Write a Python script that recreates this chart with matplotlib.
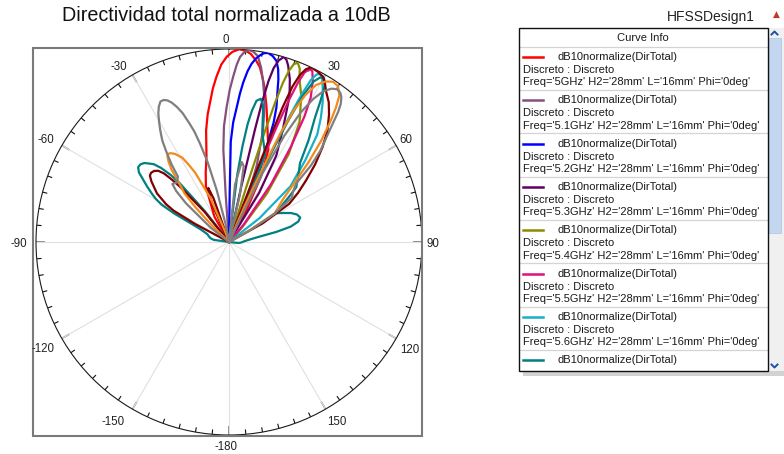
import numpy as np
import matplotlib
matplotlib.use('Agg')
import matplotlib.pyplot as plt
from matplotlib.patches import Rectangle
from matplotlib.lines import Line2D

plt.rcParams['font.family'] = ['Liberation Sans', 'DejaVu Sans']

# ---------------- data (angle in deg, normalized radius) ----------------
freqs = ['5GHz', '5.1GHz', '5.2GHz', '5.3GHz', '5.4GHz', '5.5GHz',
         '5.6GHz', '5.7GHz', '5.8GHz', '5.9GHz', '6GHz']
colors = ['#ff0000', '#85507c', '#0000ff', '#5e0060', '#8c8c00', '#e0107e',
          '#18b0c8', '#008080', '#800000', '#f28a1e', '#7f7f7f']

th_50 = [-40, -30, -22.7, -18.5, -14.7, -11.6, -9.5, -8, -6, -4.3, -2.5, -0.7, 1, 3, 5, 6.7, 8.5, 10,
         11.5, 13, 15.7, 19.5, 23.1, 26, 29, 32]
r_50 = [0, 0.15, 0.31, 0.38, 0.46, 0.59, 0.67, 0.72, 0.80, 0.86, 0.92, 0.96, 0.985, 1.0, 0.995, 0.98, 0.95, 0.92,
        0.87, 0.82, 0.72, 0.60, 0.52, 0.38, 0.18, 0]

th_51 = [-6, -4, -3.5, -2.5, -1, 0.3, 1.5, 2.5, 3.4, 4.5, 5.7, 7.2, 8.8, 10.4, 12, 14.5, 17, 20, 23, 26]
r_51 = [0, 0.25, 0.48, 0.6, 0.70, 0.79, 0.86, 0.92, 0.96, 0.985, 1.0, 0.995, 0.975, 0.92, 0.85, 0.74, 0.6, 0.42,
        0.22, 0]

th_52 = [0, 0.8, 1.0, 2, 3.3, 4.2, 5.1, 6.2, 7.2, 8.3, 9.4, 10.5, 11.7, 13.2, 14.7, 15.9, 16.9, 18.2, 19.4,
         20.5, 21.6, 23.3, 25, 28]
r_52 = [0, 0.25, 0.52, 0.62, 0.70, 0.77, 0.83, 0.89, 0.93, 0.96, 0.98, 0.995, 1.0, 0.99, 0.97, 0.93, 0.88, 0.8,
        0.74, 0.66, 0.53, 0.4, 0.26, 0]

th_53 = [11.5, 12.5, 13, 13.3, 13.8, 14.4, 15.3, 16.5, 17.5, 18.5, 20.5, 22.5, 25.5, 28.7, 31.5, 35]
r_53 = [0, 0.3, 0.6, 0.75, 0.86, 0.93, 0.975, 1.0, 0.99, 0.965, 0.9, 0.82, 0.65, 0.51, 0.3, 0]

th_54 = [16.5, 17.5, 17.8, 18, 18.3, 18.7, 19.3, 20, 21, 22.2, 23.4, 26.3, 30.5, 34.2, 38, 42, 45]
r_54 = [0, 0.3, 0.46, 0.62, 0.76, 0.87, 0.94, 0.98, 0.995, 0.97, 0.92, 0.845, 0.72, 0.55, 0.32, 0.1, 0]

th_55 = [21, 21.8, 22.2, 22.5, 22.9, 23.4, 24, 25, 26, 27.5, 29.5, 31, 33, 36, 40, 43]
r_55 = [0, 0.3, 0.5, 0.65, 0.8, 0.9, 0.96, 0.99, 0.985, 0.94, 0.86, 0.76, 0.59, 0.37, 0.12, 0]

th_56 = [24, 25, 25.4, 25.7, 26.2, 26.8, 27.6, 28.5, 29.5, 31.5, 33.9, 36.5, 39.4, 43, 47.8, 52, 55]
r_56 = [0, 0.3, 0.55, 0.72, 0.85, 0.94, 0.98, 0.99, 0.98, 0.93, 0.87, 0.8, 0.72, 0.58, 0.43, 0.2, 0]

th_57 = [-90, -82, -78, -70, -66, -64, -62.5, -61, -59.5, -58, -56, -54, -52.3, -50.5, -48.7, -47, -45.5, -44,
         -42.5, -41, -40, -38, -36,
         5, 7, 8, 9, 9.9, 11, 12.5, 13.8, 14.6, 16, 17, 20, 22.5, 23.4, 24,
         25.3, 26, 26.8, 27.8, 29, 30.2, 31.5, 33, 34.5, 38, 42, 46, 50.8, 53, 55.5, 57, 59, 62, 65, 68, 71,
         73.5, 76, 78, 80, 83, 87, 92, 96, 100]
r_57 = [0, 0.08, 0.1, 0.12, 0.16, 0.22, 0.32, 0.4, 0.44, 0.47, 0.51, 0.55, 0.59, 0.61, 0.61, 0.6, 0.58, 0.56,
        0.52, 0.46, 0.4, 0.2, 0,
        0, 0.35, 0.5, 0.62, 0.69, 0.745, 0.76, 0.735, 0.70, 0.63, 0.59, 0.53, 0.49, 0.3, 0.1,
        0.5, 0.7, 0.85, 0.94, 0.975, 0.98, 0.95, 0.87, 0.79, 0.67, 0.55, 0.5, 0.45, 0.39, 0.33, 0.29, 0.29,
        0.32, 0.355, 0.38, 0.39, 0.375, 0.33, 0.25, 0.16, 0.11, 0.08, 0.065, 0.05, 0]

th_58 = [-64, -62, -60.5, -59, -56, -52, -50, -48.4, -46.5, -44.8, -43.5, -42.5, -41.5, -39, -37,
         -26, -24, -22.5, -21, -19.5, -17,
         20, 21, 21.4, 21.7, 22.2, 23, 24, 25.2, 27.5, 29.7, 31.2, 32.7, 35.5, 38.1, 41.5, 44.6, 48, 51.4,
         54.5, 57.6, 61, 65]
r_58 = [0, 0.2, 0.33, 0.38, 0.45, 0.51, 0.535, 0.54, 0.535, 0.52, 0.49, 0.44, 0.38, 0.2, 0,
        0, 0.2, 0.28, 0.3, 0.24, 0,
        0, 0.3, 0.55, 0.75, 0.87, 0.94, 0.98, 1.0, 0.995, 0.985, 0.96, 0.93, 0.89, 0.84, 0.77, 0.69, 0.6, 0.51,
        0.44, 0.37, 0.2, 0]

th_59 = [-50, -46, -44, -42.5, -40, -38.5, -37, -35.8, -34.5, -33.2, -31.5, -29, -27.5, -26, -23, -20,
         22, 23.5, 24.5, 25.3, 26.2, 27.5, 29, 31, 33, 35, 37, 38.5, 40, 42.3, 45, 47.5, 52, 58, 61.5, 64]
r_59 = [0, 0.12, 0.25, 0.34, 0.41, 0.477, 0.52, 0.545, 0.555, 0.55, 0.535, 0.5, 0.45, 0.4, 0.25, 0.05,
        0, 0.2, 0.4, 0.62, 0.76, 0.86, 0.93, 0.97, 0.99, 0.985, 0.95, 0.89, 0.82, 0.71, 0.58, 0.47, 0.35, 0.28,
        0.09, 0]

th_60 = [-60, -52, -48, -46, -44.3, -41, -38, -36.5, -35, -33.3, -31.6, -30.2, -28.8, -27.4, -26, -24.7,
         -23.5, -22.3, -21.1, -19.8, -18.5, -17.4, -16.4, -15, -13.3, -11, -9,
         2, 6, 9, 11, 13, 16,
         24, 26, 27.5, 29, 30.5, 32, 33.7, 35.3, 36.7, 37.8, 39, 40, 42, 45, 47, 49, 52, 54.8, 58, 61, 64]
r_60 = [0, 0.12, 0.3, 0.38, 0.42, 0.41, 0.43, 0.5, 0.56, 0.63, 0.68, 0.72, 0.76, 0.79, 0.81, 0.81,
        0.8, 0.78, 0.75, 0.71, 0.65, 0.6, 0.53, 0.43, 0.275, 0.1, 0,
        0, 0.3, 0.42, 0.4, 0.25, 0,
        0, 0.4, 0.62, 0.77, 0.86, 0.92, 0.955, 0.97, 0.965, 0.95, 0.92, 0.88, 0.78, 0.67, 0.58, 0.46, 0.42,
        0.40, 0.28, 0.12, 0]

curves = [(th_50, r_50), (th_51, r_51), (th_52, r_52), (th_53, r_53), (th_54, r_54), (th_55, r_55),
          (th_56, r_56), (th_57, r_57), (th_58, r_58), (th_59, r_59), (th_60, r_60)]

angle_ticks = [0, 30, 60, 90, 120, 150, 180, 210, 240, 270, 300, 330]
angle_labels = ['0', '30', '60', '90', '120', '150', '-180', '-150', '-120', '-90', '-60', '-30']

title = 'Directividad total normalizada a 10dB'
legend_expr = 'dB10normalize(DirTotal)'
legend_ctx = 'Discreto : Discreto'

# ---------------- figure ----------------
W, H = 784, 454
fig = plt.figure(figsize=(W / 100, H / 100), dpi=100)
fig.patch.set_facecolor('white')


def fx(x):
    return x / W


def fy(y):
    return 1 - y / H


cx, cy, R = 229, 242, 193
ax = fig.add_axes([fx(cx - R), fy(cy + R), 2 * R / W, 2 * R / H], projection='polar')
ax.set_theta_zero_location('N')
ax.set_theta_direction(-1)
ax.set_ylim(0, 1)
ax.set_yticks([])
ax.set_xticks(np.deg2rad(angle_ticks))
ax.set_xticklabels([])
ax.xaxis.grid(True, which='major', color='#e0e0e0', lw=0.8)
ax.tick_params(axis='x', which='major', length=0)
ax.spines['polar'].set_color('#1a1a1a')
ax.spines['polar'].set_linewidth(0.8)

# tick marks on the outer circle
for a in range(0, 360, 5):
    t = np.deg2rad(a)
    if a % 30 == 0:
        ax.plot([t, t], [0.955, 1.0], color='#6e6e6e', lw=1.1, solid_capstyle='butt', zorder=1)
    else:
        ax.plot([t, t], [0.975, 1.0], color='#111111', lw=0.8, solid_capstyle='butt', zorder=1)

for (th, rr), c in zip(curves, colors):
    ax.plot(np.deg2rad(th), rr, color=c, lw=1.6, solid_joinstyle='round', zorder=3)

# angle labels (pixel centres measured on the reference)
label_px = {'0': (226, 40), '30': (333.5, 67.5), '60': (405.5, 140), '90': (433, 244),
            '120': (410, 350), '150': (337, 422), '-180': (226.5, 447.5), '-150': (113.5, 422),
            '-120': (42.5, 349), '-90': (19, 244), '-60': (46, 140), '-30': (119, 67.5)}
for lab in angle_labels:
    px, py = label_px[lab]
    fig.text(fx(px), fy(py), lab, ha='center', va='center', fontsize=8.3, color='#222222')

# frame around the polar plot
fig.patches.append(Rectangle((fx(33.3), fy(436)), (422 - 33.3) / W, (436 - 47.7) / H,
                             transform=fig.transFigure, fill=False, edgecolor='#7a7a7a', lw=1.5))

fig.text(fx(226.7), fy(15.5), title, ha='center', va='center', fontsize=14.2, color='#111111')

# ---------------- legend panel ----------------
lx0, lx1, ly0, ly1 = 518.5, 767.7, 28.3, 370.5
fig.patches.append(Rectangle((fx(lx0 + 4), fy(ly1 + 5)), (lx1 - lx0 + 15) / W, (ly1 - ly0) / H,
                             transform=fig.transFigure, facecolor='#d2d2d2', edgecolor='none', zorder=0))
fig.patches.append(Rectangle((fx(lx0), fy(ly1)), (lx1 - lx0) / W, (ly1 - ly0) / H,
                             transform=fig.transFigure, facecolor='white', edgecolor='none', zorder=1))
# scrollbar
fig.patches.append(Rectangle((fx(lx1), fy(ly1)), (783.5 - lx1) / W, (ly1 - ly0) / H,
                             transform=fig.transFigure, facecolor='#f0f0f0', edgecolor='none', zorder=1))
fig.patches.append(Rectangle((fx(769), fy(233)), (780.5 - 769) / W, (233 - 38) / H,
                             transform=fig.transFigure, facecolor='#c3d7f1', edgecolor='#b0c8e8', lw=0.6, zorder=2))
fig.lines.append(Line2D([fx(771.5), fx(774.5), fx(777.5)], [fy(34.5), fy(31.5), fy(34.5)],
                        transform=fig.transFigure, color='#1c4fa8', lw=1.4, zorder=3))
fig.lines.append(Line2D([fx(771.5), fx(774.5), fx(777.5)], [fy(364.5), fy(367.5), fy(364.5)],
                        transform=fig.transFigure, color='#1c4fa8', lw=1.4, zorder=3))
fig.patches.append(Rectangle((fx(lx0), fy(ly1)), (lx1 - lx0) / W, (ly1 - ly0) / H,
                             transform=fig.transFigure, fill=False, edgecolor='#111111', lw=1.0, zorder=4))

fig.text(fx(643), fy(38), 'Curve Info', ha='center', va='center', fontsize=8.0, color='#1a1a1a', zorder=5)
entry_h = 43.33
top0 = 46.7
for i in range(8):
    s = top0 + entry_h * i
    fig.lines.append(Line2D([fx(lx0 + 1), fx(lx1 - 1)], [fy(s), fy(s)], transform=fig.transFigure,
                            color='#d4d4d4', lw=0.9, zorder=3))
    fig.lines.append(Line2D([fx(523.3), fx(543.3)], [fy(s + 10.3), fy(s + 10.3)], transform=fig.transFigure,
                            color=colors[i], lw=1.8, zorder=5))
    fig.text(fx(557.7), fy(s + 10.3), legend_expr, ha='left', va='center', fontsize=8.0,
             color='#1a1a1a', zorder=5)
    if s + 23.3 < ly1 - 4:
        fig.text(fx(523), fy(s + 23.3), legend_ctx, ha='left', va='center', fontsize=8.0,
                 color='#1a1a1a', zorder=5)
    if s + 35.6 < ly1 - 4:
        fig.text(fx(523), fy(s + 35.6), "Freq='%s' H2='28mm' L='16mm' Phi='0deg'" % freqs[i],
                 ha='left', va='center', fontsize=8.0, color='#1a1a1a', zorder=5)

fig.text(fx(755), fy(17), 'HFSSDesign1', ha='right', va='center', fontsize=10, color='#222222')
fig.text(fx(776), fy(14), '\u25B2', ha='center', va='center', fontsize=6.5, color='#c0392b',
         family=['DejaVu Sans'])

fig.savefig('out.png', dpi=100)
